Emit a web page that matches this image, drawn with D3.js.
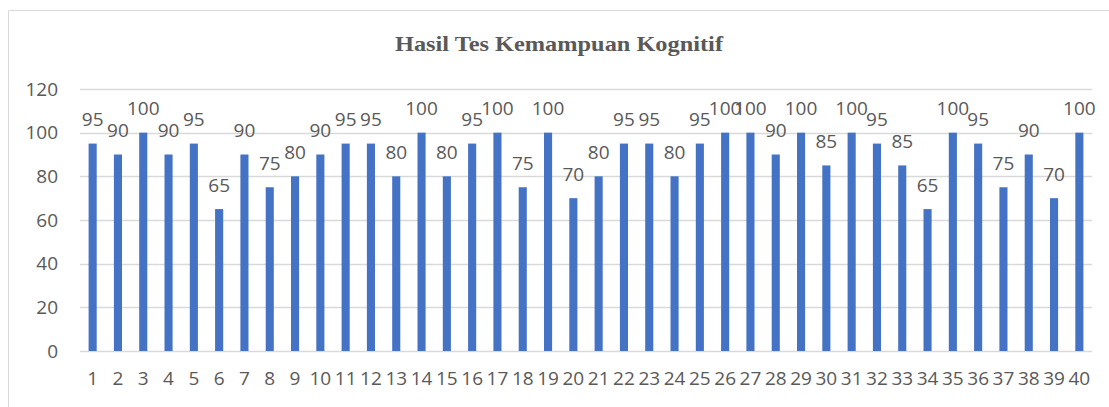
<!DOCTYPE html>
<html>
<head>
<meta charset="utf-8">
<script src="https://cdn.jsdelivr.net/npm/d3@7"></script>
<style>
  body { margin: 0; background: #fff; }
  text { fill: #595959; }
</style>
</head>
<body>
<svg id="chart" width="1109" height="407"></svg>
<script>
// data
const students = d3.range(1, 41).map(String)
const scores = [95, 90, 100, 90, 95, 65, 90, 75, 80, 90,
  95, 95, 80, 100, 80, 95, 100, 75, 100, 70,
  80, 95, 95, 80, 95, 100, 100, 90, 100, 85,
  100, 95, 85, 65, 100, 95, 75, 90, 70, 100]
const yTicks = [0, 20, 40, 60, 80, 100, 120]
const title = 'Hasil Tes Kemampuan Kognitif'

const svg = d3.select('#chart')

// chart frame (only left and top edges show in the crop)
svg.append('path')
  .attr('d', 'M8.5,407V10.5H1109')
  .attr('fill', 'none')
  .attr('stroke', '#d9d9d9')

let margin = {left: 80, right: 1092, top: 89, bottom: 351}

let x = d3.scaleBand()
  .domain(students)
  .range([margin.left, margin.right])
  .paddingInner(0.68)
  .paddingOuter(0.34)

let y = d3.scaleLinear()
  .domain([0, 120])
  .range([margin.bottom, margin.top])

// gridlines
svg.append('g')
  .selectAll('line').data(yTicks).enter()
  .append('line')
    .attr('x1', margin.left)
    .attr('x2', margin.right)
    .attr('y1', d => Math.round(y(d)) + 0.5)
    .attr('y2', d => Math.round(y(d)) + 0.5)
    .attr('stroke', '#d9d9d9')
    .attr('stroke-width', 1.3)

// y axis labels
let yAxis = svg.append('g')
  .attr('transform', `translate(${margin.left - 22},0)`)
  .call(d3.axisLeft(y).tickValues(yTicks).tickSize(0).tickPadding(0))
yAxis.select('.domain').remove()
yAxis.selectAll('text')
  .attr('fill', '#595959')
  .style('font', '19px "Open Sans"')

// x axis labels
let xAxis = svg.append('g')
  .attr('transform', `translate(0,${margin.bottom})`)
  .call(d3.axisBottom(x).tickSize(0).tickPadding(21))
xAxis.select('.domain').remove()
xAxis.selectAll('text')
  .attr('fill', '#595959')
  .style('font', '19px "Open Sans"')

// bars
svg.append('g')
  .selectAll('rect').data(scores).enter()
  .append('rect')
    .attr('x', (d, i) => x(students[i]))
    .attr('width', x.bandwidth())
    .attr('y', d => y(d))
    .attr('height', d => y(0) - y(d))
    .attr('fill', '#4472c4')

// value labels
svg.append('g')
  .selectAll('text').data(scores).enter()
  .append('text')
    .attr('x', (d, i) => x(students[i]) + x.bandwidth() / 2)
    .attr('y', d => y(d) - 24)
    .attr('dy', '0.35em')
    .attr('text-anchor', 'middle')
    .style('font', '19px "Open Sans"')
    .text(d => d)

// title
svg.append('text')
  .attr('x', 559)
  .attr('y', 51)
  .attr('text-anchor', 'middle')
  .attr('textLength', 328)
  .attr('lengthAdjust', 'spacingAndGlyphs')
  .style('font', 'bold 22px "Liberation Serif"')
  .text(title)
</script>
</body>
</html>
